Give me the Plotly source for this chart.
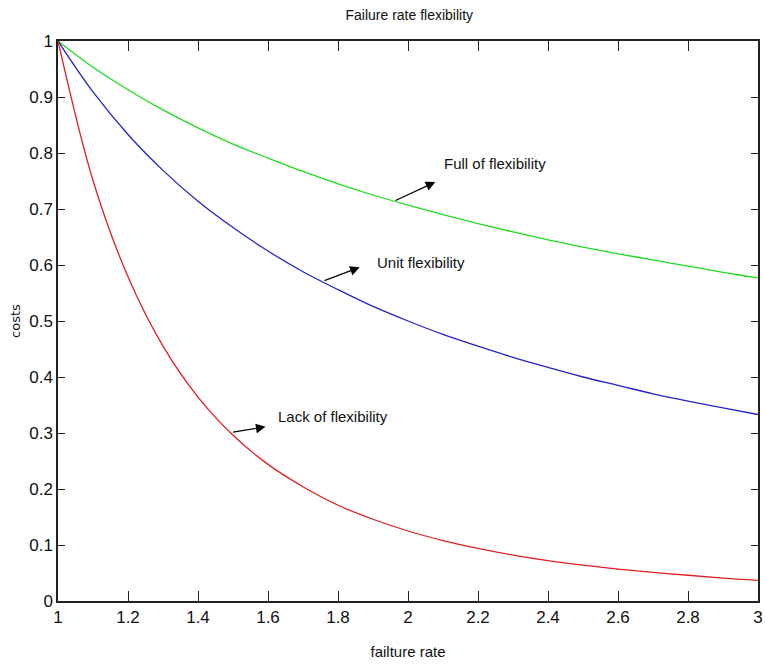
import plotly.graph_objects as go

failure_rate = [1.0, 1.1, 1.2, 1.3, 1.4, 1.5, 1.6, 1.7, 1.8, 1.9, 2.0,
                2.1, 2.2, 2.3, 2.4, 2.5, 2.6, 2.7, 2.8, 2.9, 3.0]
full_flex = [1.000, 0.953, 0.913, 0.877, 0.845, 0.816, 0.791, 0.767, 0.745, 0.725, 0.707,
             0.690, 0.674, 0.659, 0.645, 0.632, 0.620, 0.609, 0.598, 0.587, 0.577]
unit_flex = [1.000, 0.909, 0.833, 0.769, 0.714, 0.667, 0.625, 0.588, 0.556, 0.526, 0.500,
             0.476, 0.455, 0.435, 0.417, 0.400, 0.385, 0.370, 0.357, 0.345, 0.333]
lack_flex = [1.000, 0.751, 0.579, 0.455, 0.364, 0.296, 0.244, 0.204, 0.171, 0.146, 0.125,
             0.108, 0.094, 0.082, 0.072, 0.064, 0.057, 0.051, 0.046, 0.041, 0.037]

x_ticks = [1, 1.2, 1.4, 1.6, 1.8, 2, 2.2, 2.4, 2.6, 2.8, 3]
x_tick_text = ["1", "1.2", "1.4", "1.6", "1.8", "2", "2.2", "2.4", "2.6", "2.8", "3"]
y_ticks = [0, 0.1, 0.2, 0.3, 0.4, 0.5, 0.6, 0.7, 0.8, 0.9, 1]
y_tick_text = ["0", "0.1", "0.2", "0.3", "0.4", "0.5", "0.6", "0.7", "0.8", "0.9", "1"]

# annotation labels: (text, text x, text y, arrow tail x, tail y, head x, head y)
labels = [
    ("Full of flexibility", 2.098, 0.782, 1.96, 0.714, 2.078, 0.748),
    ("Unit flexibility", 1.905, 0.604, 1.757, 0.571, 1.862, 0.596),
    ("Lack of flexibility", 1.624, 0.329, 1.496, 0.301, 1.593, 0.311),
]

FONT = "Liberation Sans, Arial, sans-serif"

fig = go.Figure()
fig.add_trace(go.Scatter(x=failure_rate, y=full_flex, mode="lines",
                         line=dict(color="#1fdc1f", width=1.3, shape="spline")))
fig.add_trace(go.Scatter(x=failure_rate, y=unit_flex, mode="lines",
                         line=dict(color="#2424c8", width=1.3, shape="spline")))
fig.add_trace(go.Scatter(x=failure_rate, y=lack_flex, mode="lines",
                         line=dict(color="#e02020", width=1.3, shape="spline")))

for text, tx, ty, ax0, ay0, hx, hy in labels:
    fig.add_annotation(x=hx, y=hy, ax=ax0, ay=ay0, xref="x", yref="y",
                       axref="x", ayref="y", text="", showarrow=True,
                       arrowhead=2, arrowsize=1.6, arrowwidth=1.2, arrowcolor="black")
    fig.add_annotation(x=tx, y=ty, xref="x", yref="y", text=text, showarrow=False,
                       xanchor="left", yanchor="middle",
                       font=dict(family=FONT, size=15, color="#111111"))

fig.update_layout(
    width=765, height=664,
    margin=dict(l=58, r=7, t=41, b=63, autoexpand=False),
    paper_bgcolor="white", plot_bgcolor="white",
    showlegend=False,
    title=dict(text="Failure rate flexibility", x=0.535, xanchor="center",
               y=0.978, yanchor="middle",
               font=dict(family=FONT, size=14, color="#111111")),
    font=dict(family=FONT, size=17, color="#111111"),
)
fig.update_xaxes(range=[1, 3], tickvals=x_ticks, ticktext=x_tick_text,
                 ticks="inside", ticklen=10, tickwidth=1.2, tickcolor="#222222",
                 showline=True, linecolor="#222222", linewidth=1.5, mirror="allticks",
                 showgrid=False, zeroline=False, automargin=False,
                 ticklabeloverflow="allow",
                 title=dict(text="failture rate", standoff=20,
                            font=dict(family=FONT, size=15, color="#111111")))
fig.update_yaxes(range=[0, 1], tickvals=y_ticks, ticktext=y_tick_text,
                 ticks="inside", ticklen=7, tickwidth=1.2, tickcolor="#222222",
                 showline=True, linecolor="#222222", linewidth=1.5, mirror="allticks",
                 showgrid=False, zeroline=False, automargin=False,
                 ticklabeloverflow="allow",
                 title=dict(text="costs", standoff=6,
                            font=dict(family="DejaVu Sans, sans-serif", size=13, color="#111111")))

fig.write_html("out.html", config={"displayModeBar": False},
               post_script="document.body.style.margin='0';document.body.style.overflow='hidden';")
